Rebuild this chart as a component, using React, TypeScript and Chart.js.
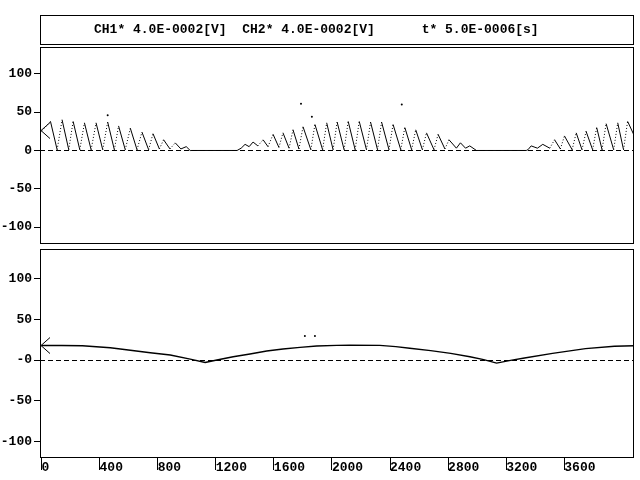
import React, { useEffect, useRef } from "react";
import { Chart, registerables } from "chart.js";

Chart.register(...registerables);

// ---------- data ----------
const headerText = "CH1* 4.0E-0002[V]  CH2* 4.0E-0002[V]      t* 5.0E-0006[s]";

const ch1Time = [
  0, 62, 108, 142, 188, 218, 264, 296, 342, 376, 422, 456, 502, 531, 577, 612, 658, 692, 738, 768,
  812, 841, 885, 921, 960, 997, 1024, 1347,
  1375, 1402, 1430, 1457, 1490, 1526, 1560, 1595, 1635, 1663, 1705, 1732, 1773, 1801, 1855, 1883,
  1936, 1964, 2008, 2036, 2084, 2112, 2160, 2188, 2238, 2266, 2314, 2342, 2393, 2421, 2474, 2502,
  2549, 2577, 2623, 2651, 2703, 2731, 2778, 2806, 2857, 2885, 2920, 2949, 2995, 3338,
  3350, 3372, 3415, 3452, 3500, 3533, 3573, 3601, 3654, 3682, 3722, 3750, 3795, 3823, 3860, 3888,
  3940, 3968, 4008, 4036, 4080,
];
const ch1Volt = [
  25, 38, 1, 40, 1, 38, 1, 36, 1, 36, 1, 37, 1, 32, 1, 29, 1, 24, 1, 22,
  2, 14, 2, 10, 2, 5, 0, 0,
  3, 8, 5, 11, 6, 14, 5, 21, 4, 23, 3, 27, 2, 31, 1, 34,
  1, 36, 1, 37, 1, 38, 1, 38, 1, 37, 1, 37, 1, 34, 1, 30,
  1, 27, 1, 23, 1, 21, 2, 14, 3, 10, 3, 6, 0, 0,
  1, 6, 3, 8, 3, 14, 2, 19, 1, 23, 1, 25, 1, 30, 1, 35,
  1, 36, 1, 38, 20,
];
const ch1SpikeTime = [456, 1787, 1862, 2481];
const ch1SpikeVolt = [46, 61, 44, 60];

const ch2Time = [
  0, 140, 282, 474, 612, 749, 887, 1024, 1127, 1208, 1320, 1436, 1551, 1663, 1780, 1895,
  2032, 2124, 2330, 2440, 2536, 2680, 2818, 2950, 3045, 3134, 3230, 3326, 3519, 3746, 3945, 4080,
];
const ch2Volt = [
  17.8, 17.9, 17.5, 15, 12, 9, 6.2, 1, -3, 0, 4, 7.4, 11, 13.5, 15.6, 17.2,
  18, 18.3, 18, 16.5, 14.5, 11.5, 8.2, 4, 0.5, -3.8, -0.5, 2.5, 8.2, 14, 17, 17.6,
];
const ch2SpikeTime = [1814, 1883];
const ch2SpikeVolt = [29.5, 29.5];

const yTickValues = [-100, -50, 0, 50, 100];
const ch1YLabels = ["-100", "-50", "0", "50", "100"];
const ch2YLabels = ["-100", "-50", "-0", "50", "100"];
const xTickValues = [0, 400, 800, 1200, 1600, 2000, 2400, 2800, 3200, 3600];
const markerLevels = [26, 17.8];

// ---------- drawing ----------
const FONT_FAMILY = '"Liberation Mono", "DejaVu Sans Mono", monospace';
const tickFont = { family: FONT_FAMILY, size: 13, weight: "bold" as const };

const framePlugin = {
  id: "scopeFrame",
  beforeDatasetsDraw(chart: any) {
    const { ctx, chartArea: a, scales } = chart;
    const y0 = Math.round(scales.y.getPixelForValue(0)) + 0.5;
    ctx.save();
    ctx.strokeStyle = "#000";
    ctx.lineWidth = 1;
    ctx.setLineDash([5, 3]);
    ctx.beginPath();
    ctx.moveTo(a.left, y0);
    ctx.lineTo(a.right, y0);
    ctx.stroke();
    ctx.restore();
  },
  afterDatasetsDraw(chart: any, _args: any, opts: any) {
    const { ctx, chartArea: a, scales } = chart;
    ctx.save();
    ctx.strokeStyle = "#000";
    ctx.lineWidth = 1;
    ctx.setLineDash([]);
    ctx.strokeRect(a.left + 0.5, a.top + 0.5, a.right - a.left - 1, a.bottom - a.top - 1);
    // channel marker arrow
    const ym = scales.y.getPixelForValue(opts.marker);
    ctx.beginPath();
    ctx.moveTo(a.left + 10, ym - 8);
    ctx.lineTo(a.left + 1, ym);
    ctx.lineTo(a.left + 10, ym + 8);
    ctx.stroke();
    if (opts.header) {
      ctx.strokeRect(a.left + 0.5, 15.5, a.right - a.left - 1, 29);
      ctx.fillStyle = "#000";
      ctx.font = `bold 13px ${FONT_FAMILY}`;
      ctx.textAlign = "left";
      ctx.textBaseline = "middle";
      ctx.fillText(opts.header, 94, 30);
    }
    ctx.restore();
  },
};

function makeConfig(p: {
  times: number[];
  volts: number[];
  spikeT: number[];
  spikeV: number[];
  yMin: number;
  yMax: number;
  yLabels: string[];
  showX: boolean;
  padTop: number;
  padBottom: number;
  marker: number;
  header?: string;
  lineWidth: number;
}) {
  const line = p.times.map((t, i) => ({ x: t, y: p.volts[i] }));
  const spikes = p.spikeT.map((t, i) => ({ x: t, y: p.spikeV[i] }));
  return {
    type: "line" as const,
    data: {
      datasets: [
        {
          data: line,
          borderColor: "#000",
          borderWidth: p.lineWidth,
          pointRadius: 0,
          pointHoverRadius: 0,
          tension: 0,
          fill: false,
          segment: {
            borderDash: (c: any) => (c.p1.parsed.y - c.p0.parsed.y > 7 ? [1, 2] : undefined),
          },
        },
        {
          type: "scatter" as const,
          data: spikes,
          pointRadius: 1,
          pointHoverRadius: 0,
          pointBorderWidth: 0,
          pointBackgroundColor: "#000",
          showLine: false,
        },
      ],
    },
    options: {
      animation: false as const,
      responsive: false,
      devicePixelRatio: 1,
      events: [],
      layout: {
        autoPadding: false,
        padding: { top: p.padTop, right: 6, bottom: p.padBottom, left: 0 },
      },
      plugins: {
        legend: { display: false },
        tooltip: { enabled: false },
        scopeFrame: { marker: p.marker, header: p.header },
      },
      scales: {
        x: {
          type: "linear" as const,
          min: -10,
          max: 4080,
          display: p.showX,
          position: "bottom" as const,
          afterBuildTicks: (s: any) => {
            s.ticks = xTickValues.map((v) => ({ value: v }));
          },
          afterFit: (s: any) => {
            if (s.options.display) s.height = 22;
            s.paddingLeft = 0;
            s.paddingRight = 0;
          },
          border: { display: false },
          grid: {
            drawOnChartArea: false,
            drawTicks: true,
            tickLength: 12,
            tickColor: "#000",
            tickWidth: 1,
            color: "#000",
          },
          ticks: {
            align: "start" as const,
            padding: -10,
            color: "#000",
            font: tickFont,
            maxRotation: 0,
            autoSkip: false,
            callback: (v: any) => String(v),
          },
        },
        y: {
          type: "linear" as const,
          min: p.yMin,
          max: p.yMax,
          afterBuildTicks: (s: any) => {
            s.ticks = yTickValues.map((v) => ({ value: v }));
          },
          afterFit: (s: any) => {
            s.width = 40;
            s.paddingTop = 0;
            s.paddingBottom = 0;
          },
          border: { display: false },
          grid: {
            drawOnChartArea: false,
            drawTicks: true,
            tickLength: 6,
            tickColor: "#000",
            tickWidth: 1,
            color: "#000",
          },
          ticks: {
            padding: 2,
            color: "#000",
            font: tickFont,
            autoSkip: false,
            callback: (v: any) => p.yLabels[yTickValues.indexOf(Number(v))] ?? "",
          },
        },
      },
    },
    plugins: [framePlugin],
  };
}

export default function App() {
  const topRef = useRef<HTMLCanvasElement>(null);
  const botRef = useRef<HTMLCanvasElement>(null);

  useEffect(() => {
    const c1 = new Chart(
      topRef.current as HTMLCanvasElement,
      makeConfig({
        times: ch1Time,
        volts: ch1Volt,
        spikeT: ch1SpikeTime,
        spikeV: ch1SpikeVolt,
        yMin: -122,
        yMax: 135,
        yLabels: ch1YLabels,
        showX: false,
        padTop: 47,
        padBottom: 4,
        marker: markerLevels[0],
        header: headerText,
        lineWidth: 1,
      }) as any
    );
    const c2 = new Chart(
      botRef.current as HTMLCanvasElement,
      makeConfig({
        times: ch2Time,
        volts: ch2Volt,
        spikeT: ch2SpikeTime,
        spikeV: ch2SpikeVolt,
        yMin: -120.6,
        yMax: 136.6,
        yLabels: ch2YLabels,
        showX: true,
        padTop: 1,
        padBottom: 0,
        marker: markerLevels[1],
        lineWidth: 1.4,
      }) as any
    );
    return () => {
      c1.destroy();
      c2.destroy();
    };
  }, []);

  return (
    <div
      style={{
        position: "absolute",
        left: 0,
        top: 0,
        width: 640,
        height: 480,
        background: "#fff",
        overflow: "hidden",
      }}
    >
      <canvas
        ref={topRef}
        width={640}
        height={248}
        style={{ position: "absolute", left: 0, top: 0, width: 640, height: 248, display: "block" }}
      />
      <canvas
        ref={botRef}
        width={640}
        height={232}
        style={{ position: "absolute", left: 0, top: 248, width: 640, height: 232, display: "block" }}
      />
    </div>
  );
}
